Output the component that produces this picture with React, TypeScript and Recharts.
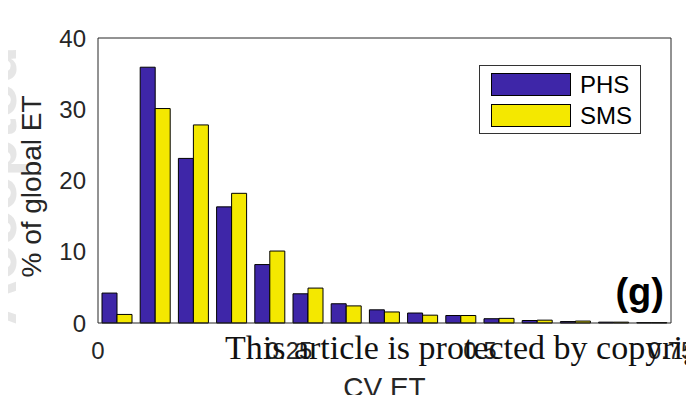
// @ts-nocheck

import React from "react"
import { BarChart, Bar, XAxis, YAxis, Legend } from "recharts"

// bin centres of the CV ET histogram (bin width 0.05)
const binCenters = [
    0.025, 0.075, 0.125, 0.175, 0.225, 0.275, 0.325, 0.375,
    0.425, 0.475, 0.525, 0.575, 0.625, 0.675, 0.725
]
// % of global ET per bin
const phsValues = [4.2, 35.9, 23.1, 16.3, 8.2, 4.1, 2.7, 1.85, 1.4, 1.05, 0.6, 0.35, 0.2, 0.12, 0.06]
const smsValues = [1.2, 30.1, 27.8, 18.2, 10.1, 4.9, 2.4, 1.55, 1.1, 1.05, 0.65, 0.4, 0.27, 0.12, 0.06]

const xTicks = [0, 0.25, 0.5, 0.75]
const yTicks = [0, 10, 20, 30, 40]
const seriesNames = ["PHS", "SMS"]
const seriesColors = ["#3e26a8", "#f4e800"]

const data = binCenters.map((cv, i) => ({
    cv,
    phs: phsValues[i],
    sms: smsValues[i]
}))

const axisColor = "#262626"
const font = "'Liberation Sans', Arial, sans-serif"

// legend box in the upper right corner, matlab style
const LegendBox = () => (
    <div
        style={{
            width: 162,
            height: 69,
            border: "1px solid #333",
            background: "#fff",
            boxSizing: "border-box",
            fontFamily: font,
            fontSize: 24,
            color: "#000"
        }}
    >
        {seriesNames.map((name, i) => (
            <div
                key={name}
                style={{
                    position: "absolute",
                    left: 12,
                    top: 8 + i * 31,
                    display: "flex",
                    alignItems: "center"
                }}
            >
                <div
                    style={{
                        width: 80,
                        height: 23,
                        background: seriesColors[i],
                        border: "1px solid #000",
                        boxSizing: "border-box"
                    }}
                />
                <span style={{ marginLeft: 9, lineHeight: "23px" }}>{name}</span>
            </div>
        ))}
    </div>
)

const XLabel = ({ viewBox }) => (
    <text
        x={viewBox.x + viewBox.width / 2}
        y={397}
        textAnchor="middle"
        fontSize={28}
        fill={axisColor}
    >
        CV ET
    </text>
)

const YLabel = ({ viewBox }) => {
    const cx = 31
    const cy = viewBox.y + viewBox.height / 2 + 6
    return (
        <text
            x={cx}
            y={cy}
            transform={`rotate(-90, ${cx}, ${cy})`}
            textAnchor="middle"
            dominantBaseline="central"
            fontSize={28}
            fill={axisColor}
        >
            % of global ET
        </text>
    )
}

export default function App() {
    return (
        <div style={{ position: "relative", width: 694, height: 403, margin: -8, fontFamily: font, background: "#fff", overflow: "hidden" }}>
            {/* faint side watermark */}
            <div
                style={{
                    position: "absolute",
                    left: -36,
                    top: 325,
                    transformOrigin: "0 0",
                    transform: "rotate(-90deg)",
                    fontSize: 62,
                    lineHeight: "62px",
                    fontWeight: "bold",
                    color: "#e6e6e6",
                    whiteSpace: "nowrap"
                }}
            >
                Accepted
            </div>
            <BarChart
                width={694}
                height={403}
                data={data}
                margin={{ top: 38, right: 23, bottom: 40, left: 38 }}
                barGap={0}
                style={{ position: "absolute", left: 0, top: 0 }}
            >
                {/* box with inward tick marks on all four sides */}
                <XAxis xAxisId="bt" dataKey="cv" type="number" domain={[0, 0.75]} ticks={xTicks}
                    orientation="bottom" height={1} mirror tick={false}
                    axisLine={{ stroke: axisColor }} tickSize={5} tickLine={{ stroke: axisColor }} allowDataOverflow />
                <XAxis xAxisId="tp" dataKey="cv" type="number" domain={[0, 0.75]} ticks={xTicks}
                    orientation="top" height={1} mirror tick={false}
                    axisLine={{ stroke: axisColor }} tickSize={5} tickLine={{ stroke: axisColor }} allowDataOverflow />
                <YAxis yAxisId="lt" type="number" domain={[0, 40]} ticks={yTicks}
                    orientation="left" width={1} mirror tick={false}
                    axisLine={{ stroke: axisColor }} tickSize={5} tickLine={{ stroke: axisColor }} />
                <YAxis yAxisId="rt" type="number" domain={[0, 40]} ticks={yTicks}
                    orientation="right" width={1} mirror tick={false}
                    axisLine={{ stroke: axisColor }} tickSize={5} tickLine={{ stroke: axisColor }} />

                <XAxis
                    dataKey="cv"
                    type="number"
                    domain={[0, 0.75]}
                    ticks={xTicks}
                    height={40}
                    tickLine={false}
                    tickSize={0}
                    tickMargin={19}
                    axisLine={false}
                    tick={{ fill: axisColor, fontSize: 24 }}
                    tickFormatter={v => String(v)}
                    allowDataOverflow
                    label={{ content: XLabel }}
                />
                <YAxis
                    type="number"
                    domain={[0, 40]}
                    ticks={yTicks}
                    width={60}
                    tickLine={false}
                    tickSize={0}
                    tickMargin={12}
                    axisLine={false}
                    tick={{ fill: axisColor, fontSize: 24 }}
                    label={{ content: YLabel }}
                />

                <Legend
                    layout="vertical"
                    align="center"
                    verticalAlign="middle"
                    content={<LegendBox />}
                    wrapperStyle={{ left: 479, top: 65, width: 162, height: 69 }}
                />

                <Bar dataKey="phs" name="PHS" fill={seriesColors[0]} stroke="#000" strokeWidth={1}
                    barSize={15} isAnimationActive={false} />
                <Bar dataKey="sms" name="SMS" fill={seriesColors[1]} stroke="#000" strokeWidth={1}
                    barSize={15} isAnimationActive={false} />
            </BarChart>

            {/* panel letter */}
            <div style={{ position: "absolute", right: 694 - 664, top: 268, fontSize: 38, fontWeight: "bold", lineHeight: "48px", color: "#000" }}>
                (g)
            </div>
            {/* copyright watermark */}
            <div style={{ position: "absolute", left: 225, top: 331, fontFamily: "'Liberation Serif', 'Times New Roman', serif", fontSize: 34, lineHeight: "34px", color: "#111", whiteSpace: "nowrap" }}>
                This article is protected by copyright
            </div>
        </div>
    )
}
